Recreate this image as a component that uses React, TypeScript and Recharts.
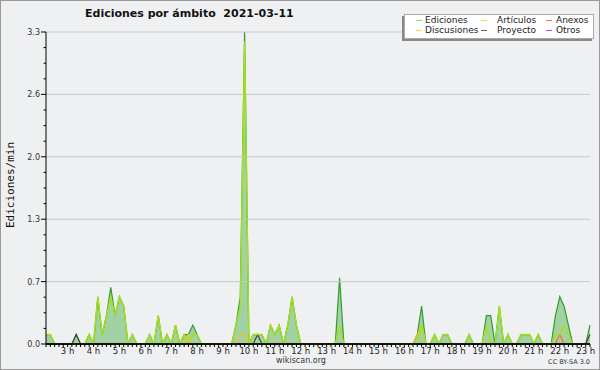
import React from 'react';
import {
  ComposedChart, Area, Line, XAxis, YAxis, ReferenceLine, Legend,
} from 'recharts';

// one point every 10 minutes, 02:10 -> 23:10 (edits per minute)
const START_MIN = 130;
const STEP_MIN = 10;

const EDICIONES = [
  0.1, 0.1, 0, 0, 0, 0, 0, 0.1, 0, 0, 0.1, 0, 0.5, 0.1, 0.3, 0.6, 0.3, 0.5,
  0.4, 0, 0.1, 0, 0, 0, 0.1, 0, 0.3, 0, 0.1, 0, 0.2, 0, 0.1, 0.1, 0.2, 0.1,
  0, 0, 0, 0, 0, 0, 0, 0, 0.2, 0.5, 3.3, 0, 0.1, 0.1, 0.1, 0, 0.2, 0.1,
  0.2, 0, 0.2, 0.5, 0.2, 0, 0, 0, 0, 0, 0, 0, 0, 0, 0.7, 0, 0, 0,
  0, 0, 0, 0, 0, 0, 0, 0, 0, 0, 0, 0, 0, 0, 0.1, 0.4, 0, 0,
  0.1, 0, 0.1, 0.1, 0, 0, 0, 0, 0.1, 0, 0, 0, 0.3, 0.3, 0, 0.4, 0, 0.1,
  0, 0, 0.1, 0.1, 0.1, 0, 0.1, 0, 0, 0, 0.3, 0.5, 0.4, 0.2, 0, 0, 0, 0,
  0.2,
];
const ARTICULOS = [
  0.1, 0.1, 0, 0, 0, 0, 0, 0, 0, 0, 0.1, 0, 0.5, 0.1, 0.3, 0.5, 0.3, 0.5,
  0.4, 0, 0.1, 0, 0, 0, 0.1, 0, 0.3, 0, 0.1, 0, 0.2, 0, 0.1, 0, 0.1, 0.1,
  0, 0, 0, 0, 0, 0, 0, 0, 0.2, 0.4, 3.2, 0, 0.1, 0.1, 0.1, 0, 0.2, 0.1,
  0.2, 0, 0.2, 0.5, 0.2, 0, 0, 0, 0, 0, 0, 0, 0, 0, 0.2, 0, 0, 0,
  0, 0, 0, 0, 0, 0, 0, 0, 0, 0, 0, 0, 0, 0, 0, 0.2, 0, 0,
  0.1, 0, 0.1, 0.1, 0, 0, 0, 0, 0.1, 0, 0, 0, 0.2, 0, 0, 0.4, 0, 0.1,
  0, 0, 0.1, 0.1, 0.1, 0, 0.1, 0, 0, 0, 0.1, 0.1, 0.2, 0.1, 0, 0, 0, 0,
  0,
];
const DISCUSIONES = [
  0, 0, 0, 0, 0, 0, 0, 0, 0, 0, 0, 0, 0, 0, 0, 0, 0, 0,
  0, 0, 0, 0, 0, 0, 0, 0, 0, 0, 0, 0, 0, 0, 0, 0.1, 0, 0,
  0, 0, 0, 0, 0, 0, 0, 0, 0, 0.1, 0.1, 0, 0, 0, 0, 0, 0, 0,
  0, 0, 0, 0, 0, 0, 0, 0, 0, 0, 0, 0, 0, 0, 0, 0, 0, 0,
  0, 0, 0, 0, 0, 0, 0, 0, 0, 0, 0, 0, 0, 0, 0.1, 0.2, 0, 0,
  0, 0, 0, 0, 0, 0, 0, 0, 0, 0, 0, 0, 0, 0, 0, 0, 0, 0,
  0, 0, 0, 0, 0, 0, 0, 0, 0, 0, 0, 0, 0, 0, 0, 0, 0, 0,
  0,
];
const PROYECTO = [
  0, 0, 0, 0, 0, 0, 0, 0.1, 0, 0, 0, 0, 0, 0, 0, 0, 0, 0,
  0, 0, 0, 0, 0, 0, 0, 0, 0, 0, 0, 0, 0, 0, 0, 0, 0, 0,
  0, 0, 0, 0, 0, 0, 0, 0, 0, 0, 0, 0, 0, 0.1, 0, 0, 0, 0,
  0, 0, 0, 0, 0, 0, 0, 0, 0, 0, 0, 0, 0, 0, 0, 0, 0, 0,
  0, 0, 0, 0, 0, 0, 0, 0, 0, 0, 0, 0, 0, 0, 0, 0, 0, 0,
  0, 0, 0, 0, 0, 0, 0, 0, 0, 0, 0, 0, 0, 0, 0, 0, 0, 0,
  0, 0, 0, 0, 0, 0, 0, 0, 0, 0, 0, 0, 0, 0, 0, 0, 0, 0,
  0.1,
];
const ANEXOS = [
  0, 0, 0, 0, 0, 0, 0, 0, 0, 0, 0, 0, 0, 0, 0, 0, 0, 0,
  0, 0, 0, 0, 0, 0, 0, 0, 0, 0, 0, 0, 0, 0, 0, 0, 0, 0,
  0, 0, 0, 0, 0, 0, 0, 0, 0, 0, 0, 0, 0, 0, 0, 0, 0, 0,
  0, 0, 0, 0, 0, 0, 0, 0, 0, 0, 0, 0, 0, 0, 0, 0, 0, 0,
  0, 0, 0, 0, 0, 0, 0, 0, 0, 0, 0, 0, 0, 0, 0, 0, 0, 0,
  0, 0, 0, 0, 0, 0, 0, 0, 0, 0, 0, 0, 0, 0, 0, 0, 0, 0,
  0, 0, 0, 0, 0, 0, 0, 0, 0, 0, 0, 0.1, 0, 0, 0, 0, 0, 0,
  0,
];
const OTROS = [
  0, 0, 0, 0, 0, 0, 0, 0, 0, 0, 0, 0, 0, 0, 0, 0, 0, 0,
  0, 0, 0, 0, 0, 0, 0, 0, 0, 0, 0, 0, 0, 0, 0, 0, 0, 0,
  0, 0, 0, 0, 0, 0, 0, 0, 0, 0, 0, 0, 0, 0, 0, 0, 0, 0,
  0, 0, 0, 0, 0, 0, 0, 0, 0, 0, 0, 0, 0, 0, 0, 0, 0, 0,
  0, 0, 0, 0, 0, 0, 0, 0, 0, 0, 0, 0, 0, 0, 0, 0, 0, 0,
  0, 0, 0, 0, 0, 0, 0, 0, 0, 0, 0, 0, 0, 0, 0, 0, 0, 0,
  0, 0, 0, 0, 0, 0, 0, 0, 0, 0, 0, 0, 0, 0, 0, 0, 0, 0,
  0,
];

const Y_MAJOR = [0, 0.66, 1.32, 1.98, 2.64, 3.3];

const FONT = '"DejaVu Sans", sans-serif';

const times = EDICIONES.map((_, i) => START_MIN + i * STEP_MIN);
const data = times.map((t, i) => ({
  t,
  ed: EDICIONES[i],
  art: ARTICULOS[i],
  anx: ANEXOS[i],
  disc: DISCUSIONES[i],
  proy: PROYECTO[i],
  otr: OTROS[i],
}));

// major + 3 minor ticks between each pair
const yTicks: number[] = [];
Y_MAJOR.forEach((v, i) => {
  yTicks.push(v);
  if (i < Y_MAJOR.length - 1) {
    const d = (Y_MAJOR[i + 1] - v) / 4;
    yTicks.push(v + d, v + 2 * d, v + 3 * d);
  }
});

const legendItems = [
  { name: 'Ediciones', color: '#7fd67f', col: 0, row: 0 },
  { name: 'Artículos', color: '#c6f03a', col: 1, row: 0 },
  { name: 'Anexos', color: '#ff7a3a', col: 2, row: 0 },
  { name: 'Discusiones', color: '#ffd23a', col: 0, row: 1 },
  { name: 'Proyecto', color: '#666666', col: 1, row: 1 },
  { name: 'Otros', color: '#a64dff', col: 2, row: 1 },
];
const LEGEND_COLS = [{ line: 11, text: 20 }, { line: 76, text: 92 }, { line: 141, text: 151 }];

const XTick = (props: any) => {
  const { x, y, payload } = props;
  const v = payload.value as number;
  const isHour = v % 60 === 0;
  return (
    <g>
      <line x1={x} x2={x} y1={y} y2={y + 3} stroke="#000" strokeWidth={1} />
      {isHour && (
        <text x={x} y={y + 10} textAnchor="middle" fontFamily={FONT} fontSize={8.5} fill="#222">
          {`${v / 60} h`}
        </text>
      )}
    </g>
  );
};

const YTick = (props: any) => {
  const { x, y, payload } = props;
  const v = payload.value as number;
  const isMajor = Y_MAJOR.some((m) => Math.abs(m - v) < 1e-6);
  return (
    <g>
      <line x1={x - (isMajor ? 5 : 2.5)} x2={x} y1={y} y2={y} stroke="#000" strokeWidth={1} />
      {isMajor && (
        <text x={x - 6} y={y + 3} textAnchor="end" fontFamily={FONT} fontSize={8} fill="#333">
          {v.toFixed(1)}
        </text>
      )}
    </g>
  );
};

const renderLegend = () => (
  <div
    style={{
      position: 'relative',
      width: 188,
      height: 23,
      background: '#fff',
      border: '1px solid #aaa',
      boxShadow: '-2px 2px 0 #888',
      fontFamily: FONT,
      fontSize: 9,
      color: '#222',
    }}
  >
    {legendItems.map((it) => (
      <div key={it.name}>
        <div
          style={{
            position: 'absolute',
            left: LEGEND_COLS[it.col].line,
            top: 5 + it.row * 10,
            width: 6,
            height: 1,
            background: it.color,
          }}
        />
        <div
          style={{
            position: 'absolute',
            left: LEGEND_COLS[it.col].text,
            top: it.row * 10,
            lineHeight: '11px',
            whiteSpace: 'nowrap',
          }}
        >
          {it.name}
        </div>
      </div>
    ))}
  </div>
);

export default function App() {
  return (
    <div
      style={{
        position: 'absolute',
        left: 0,
        top: 0,
        width: 600,
        height: 370,
        boxSizing: 'border-box',
        border: '1px solid #999',
        background: '#eff0f2',
        overflow: 'hidden',
      }}
    >
      <div style={{ position: 'absolute', left: -1, top: -1 }}>
        <ComposedChart width={600} height={370} data={data} margin={{ top: 32, right: 10, bottom: 6, left: 8 }}>
          {Y_MAJOR.slice(1).map((v) => (
            <ReferenceLine key={v} y={v} stroke="#c8c8c8" strokeWidth={1} />
          ))}
          <Area
            type="linear"
            dataKey="ed"
            name="Ediciones"
            stroke="#2f9e2f"
            strokeWidth={1.2}
            fill="#44aa44"
            fillOpacity={0.45}
            isAnimationActive={false}
            dot={false}
            activeDot={false}
          />
          <Line type="linear" dataKey="otr" name="Otros" stroke="#a64dff" strokeWidth={1.2} dot={false} activeDot={false} isAnimationActive={false} />
          <Line type="linear" dataKey="anx" name="Anexos" stroke="#ff6a2a" strokeWidth={1.2} dot={false} activeDot={false} isAnimationActive={false} />
          <Line type="linear" dataKey="proy" name="Proyecto" stroke="#444444" strokeWidth={1.2} dot={false} activeDot={false} isAnimationActive={false} />
          <Line type="linear" dataKey="disc" name="Discusiones" stroke="#f0c020" strokeWidth={1.2} dot={false} activeDot={false} isAnimationActive={false} />
          <Line type="linear" dataKey="art" name="Artículos" stroke="#a6e01a" strokeWidth={1.4} dot={false} activeDot={false} isAnimationActive={false} />
          <ReferenceLine y={0} stroke="#000" strokeWidth={1.6} />
          <XAxis
            type="number"
            dataKey="t"
            domain={[START_MIN, times[times.length - 1]]}
            ticks={times}
            interval={0}
            tick={<XTick />}
            tickLine={false}
            tickSize={0}
            tickMargin={0}
            height={20}
            axisLine={{ stroke: '#000', strokeWidth: 1 }}
          />
          <YAxis
            type="number"
            domain={[0, 3.3]}
            ticks={yTicks}
            interval={0}
            tick={<YTick />}
            tickLine={false}
            tickSize={0}
            tickMargin={0}
            width={38}
            axisLine={{ stroke: '#000', strokeWidth: 1 }}
          />
          <Legend
            layout="vertical"
            align="center"
            verticalAlign="middle"
            content={renderLegend}
            wrapperStyle={{ position: 'absolute', left: 404, top: 14, width: 190, height: 25 }}
          />
        </ComposedChart>
      </div>
      <div
        style={{
          position: 'absolute',
          left: 84,
          top: 6,
          fontFamily: FONT,
          fontWeight: 'bold',
          fontSize: 11,
          color: '#111',
          whiteSpace: 'pre',
        }}
      >
        {'Ediciones por ámbito  2021-03-11'}
      </div>
      <div
        style={{
          position: 'absolute',
          left: 9,
          top: 184,
          transform: 'translate(-50%, -50%) rotate(-90deg)',
          fontFamily: '"DejaVu Sans Mono", monospace',
          fontSize: 11,
          color: '#111',
          whiteSpace: 'nowrap',
        }}
      >
        Ediciones/min
      </div>
      <div
        style={{
          position: 'absolute',
          left: 0,
          width: 600,
          top: 355,
          textAlign: 'center',
          fontFamily: FONT,
          fontSize: 8,
          color: '#333',
        }}
      >
        wikiscan.org
      </div>
      <div
        style={{
          position: 'absolute',
          right: 9,
          top: 357,
          fontFamily: FONT,
          fontSize: 6.5,
          color: '#333',
        }}
      >
        CC BY-SA 3.0
      </div>
    </div>
  );
}
